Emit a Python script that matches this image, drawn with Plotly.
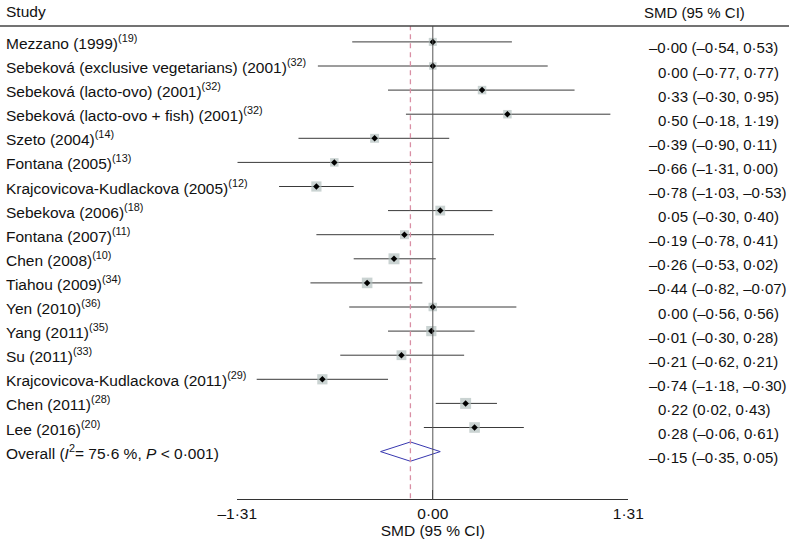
import plotly.graph_objects as go

# ---------------- data ----------------
studies = [
    "Mezzano (1999)<sup>(19)</sup>",
    "Sebeková (exclusive vegetarians) (2001)<sup>(32)</sup>",
    "Sebeková (lacto-ovo) (2001)<sup>(32)</sup>",
    "Sebeková (lacto-ovo + fish) (2001)<sup>(32)</sup>",
    "Szeto (2004)<sup>(14)</sup>",
    "Fontana (2005)<sup>(13)</sup>",
    "Krajcovicova-Kudlackova (2005)<sup>(12)</sup>",
    "Sebekova (2006)<sup>(18)</sup>",
    "Fontana (2007)<sup>(11)</sup>",
    "Chen (2008)<sup>(10)</sup>",
    "Tiahou (2009)<sup>(34)</sup>",
    "Yen (2010)<sup>(36)</sup>",
    "Yang (2011)<sup>(35)</sup>",
    "Su (2011)<sup>(33)</sup>",
    "Krajcovicova-Kudlackova (2011)<sup>(29)</sup>",
    "Chen (2011)<sup>(28)</sup>",
    "Lee (2016)<sup>(20)</sup>",
]
smd   = [-0.00, 0.00, 0.33, 0.50, -0.39, -0.66, -0.78, 0.05, -0.19, -0.26, -0.44, 0.00, -0.01, -0.21, -0.74, 0.22, 0.28]
lower = [-0.54, -0.77, -0.30, -0.18, -0.90, -1.31, -1.03, -0.30, -0.78, -0.53, -0.82, -0.56, -0.30, -0.62, -1.18, 0.02, -0.06]
upper = [0.53, 0.77, 0.95, 1.19, 0.11, 0.00, -0.53, 0.40, 0.41, 0.02, -0.07, 0.56, 0.28, 0.21, -0.30, 0.43, 0.61]
est_text = [
    "–0·00 (–0·54, 0·53)", "0·00 (–0·77, 0·77)", "0·33 (–0·30, 0·95)", "0·50 (–0·18, 1·19)",
    "–0·39 (–0·90, 0·11)", "–0·66 (–1·31, 0·00)", "–0·78 (–1·03, –0·53)", "0·05 (–0·30, 0·40)",
    "–0·19 (–0·78, 0·41)", "–0·26 (–0·53, 0·02)", "–0·44 (–0·82, –0·07)", "0·00 (–0·56, 0·56)",
    "–0·01 (–0·30, 0·28)", "–0·21 (–0·62, 0·21)", "–0·74 (–1·18, –0·30)", "0·22 (0·02, 0·43)",
    "0·28 (–0·06, 0·61)",
]
weights = [4.0, 3.5, 4.5, 4.5, 5.0, 4.5, 6.5, 6.0, 5.0, 7.5, 7.0, 4.5, 6.5, 6.0, 6.5, 7.5, 7.0]

overall_label = "Overall (<i>I</i><sup>2</sup>= 75·6 %, <i>P</i> < 0·001)"
overall_est, overall_lo, overall_hi = -0.15, -0.35, 0.05
overall_text = "–0·15 (–0·35, 0·05)"

tick_vals = [-1.31, 0.00, 1.31]
tick_text = ["–1·31", "0·00", "1·31"]
x_title = "SMD (95 % CI)"

# ---------------- layout helpers ----------------
W, H = 789, 548
FONT = "Liberation Sans, Arial, sans-serif"
FS = 15.5
FS_R = 15
TXT = "#111111"
row0_px, row_step = 41.9, 24.1
axis_px = 499.3
header_line_px = 26
n = len(studies)
rows = list(range(n))
overall_row = n

def py(px):
    return 1 - px / H

fig = go.Figure()

# CI lines
cx, cy = [], []
for i in rows:
    cx += [lower[i], upper[i], None]
    cy += [i, i, None]
fig.add_trace(go.Scatter(x=cx, y=cy, mode="lines", line=dict(color="#3a3a3a", width=1),
                         hoverinfo="skip", showlegend=False, cliponaxis=False))

# weight squares
fig.add_trace(go.Scatter(x=smd, y=rows, mode="markers",
                         marker=dict(symbol="square", size=[4.0 * w ** 0.5 for w in weights],
                                     color="#b3c1bf", line=dict(width=0)),
                         showlegend=False, cliponaxis=False))
# centre points
fig.add_trace(go.Scatter(x=smd, y=rows, mode="markers",
                         marker=dict(symbol="diamond", size=5, color="black", line=dict(width=0)),
                         showlegend=False, cliponaxis=False))

# overall diamond
h = 0.4
fig.add_trace(go.Scatter(x=[overall_lo, overall_est, overall_hi, overall_est, overall_lo],
                         y=[overall_row, overall_row - h, overall_row, overall_row + h, overall_row],
                         mode="lines", line=dict(color="#3838b0", width=1),
                         showlegend=False, cliponaxis=False))

# reference lines
fig.add_shape(type="line", xref="x", yref="paper", x0=0, x1=0,
              y0=py(axis_px), y1=py(header_line_px), line=dict(color="#555555", width=1))
fig.add_shape(type="line", xref="x", yref="paper", x0=overall_est, x1=overall_est,
              y0=py(axis_px - 1), y1=py(header_line_px), line=dict(color="#d98fa4", width=1.3, dash="5px,4px"))
# header rule
fig.add_shape(type="line", xref="paper", yref="paper", x0=0, x1=1,
              y0=py(header_line_px), y1=py(header_line_px), line=dict(color="#444444", width=1.3))

ann = []
ann.append(dict(text="Study", x=4 / W, y=py(12), xref="paper", yref="paper",
                xanchor="left", yanchor="middle", showarrow=False, font=dict(size=FS, family=FONT, color=TXT)))
ann.append(dict(text="SMD (95 % CI)", x=694 / W, y=py(13), xref="paper", yref="paper",
                xanchor="center", yanchor="middle", showarrow=False, font=dict(size=FS_R, family=FONT, color=TXT)))
labels = studies + [overall_label]
texts = est_text + [overall_text]
for i, (lab, t) in enumerate(zip(labels, texts)):
    ann.append(dict(text=lab, x=4 / W, y=i, xref="paper", yref="y", xanchor="left", yanchor="middle",
                    showarrow=False, font=dict(size=FS, family=FONT, color=TXT)))
    ann.append(dict(text=t, x=655.5 / W, y=i, xref="paper", yref="y", xanchor="left", yanchor="middle",
                    xshift=-8.3 if t.startswith("–") else 0, yshift=-6,
                    showarrow=False, font=dict(size=FS_R, family=FONT, color=TXT)))

fig.update_layout(
    template="none",
    width=W, height=H, margin=dict(l=0, r=0, t=0, b=0, pad=0), autosize=False,
    paper_bgcolor="white", plot_bgcolor="white",
    annotations=ann,
    xaxis=dict(domain=[237.3 / W, 628.3 / W], range=[-1.31, 1.31], anchor="free", position=py(axis_px),
               automargin=False,
               showline=True, linecolor="#333", linewidth=1, ticks="inside", ticklen=9, tickcolor="#333",
               tickwidth=1, tickvals=tick_vals, ticktext=tick_text, showgrid=False, zeroline=False,
               tickfont=dict(size=FS, family=FONT, color=TXT),
               title=dict(text=x_title, font=dict(size=FS, family=FONT, color=TXT), standoff=4)),
    yaxis=dict(domain=[0, 1], range=[(H - row0_px) / row_step, -row0_px / row_step], visible=False,
               automargin=False),
)

fig.write_html("out.html", config={"displayModeBar": False},
               post_script="document.body.style.margin='0';document.body.style.overflow='hidden';")
